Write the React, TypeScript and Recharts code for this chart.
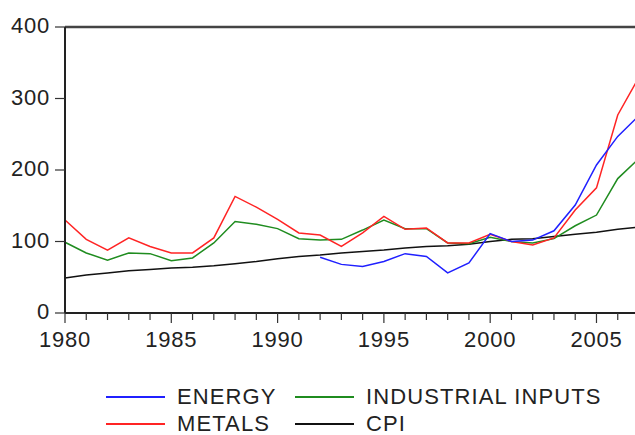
import { LineChart, Line, XAxis, YAxis, ReferenceLine } from 'recharts';

const years = [
  1980, 1981, 1982, 1983, 1984, 1985, 1986, 1987, 1988, 1989, 1990, 1991, 1992, 1993,
  1994, 1995, 1996, 1997, 1998, 1999, 2000, 2001, 2002, 2003, 2004, 2005, 2006, 2007,
];
const energy = [
  null, null, null, null, null, null, null, null, null, null, null, null, 78, 68,
  65, 72, 83, 79, 56, 70, 111, 100, 102, 115, 151, 207, 247, 276,
];
const metals = [
  130, 103, 88, 105, 93, 84, 84, 105, 163, 148, 131, 112, 109, 93,
  112, 135, 117, 119, 98, 98, 110, 100, 95, 105, 144, 175, 277, 330,
];
const industrialInputs = [
  99, 84, 74, 84, 83, 73, 77, 98, 128, 124, 118, 104, 102, 103,
  116, 130, 118, 118, 98, 97, 106, 100, 98, 104, 122, 137, 188, 216,
];
const cpi = [
  49, 53, 56, 59, 61, 63, 64, 66, 69, 72, 76, 79, 81, 84,
  86, 88, 91, 93, 94, 96, 100, 103, 104, 107, 110, 113, 117, 120,
];
const yTicks = [0, 100, 200, 300, 400];

const data = years.map((year, i) => ({
  year,
  energy: energy[i],
  metals: metals[i],
  industrial: industrialInputs[i],
  cpi: cpi[i],
}));

const FONT = '"Liberation Sans", Arial, sans-serif';
const TEXT = '#222';

const series = [
  { key: 'energy', name: 'ENERGY', color: '#2020ff' },
  { key: 'industrial', name: 'INDUSTRIAL INPUTS', color: '#1f8c1f' },
  { key: 'metals', name: 'METALS', color: '#ff2424' },
  { key: 'cpi', name: 'CPI', color: '#111111' },
];

function XTick({ x, y, payload }: any) {
  const major = payload.value % 5 === 0;
  return (
    <g>
      <line x1={x} x2={x} y1={y} y2={y + (major ? 10 : 7)} stroke="#333" strokeWidth={1.2} />
      {major && (
        <text x={x} y={y + 34} textAnchor="middle" fontFamily={FONT} fontSize={22} letterSpacing={0.8} fill={TEXT}>
          {payload.value}
        </text>
      )}
    </g>
  );
}

function YTick({ x, y, payload }: any) {
  return (
    <g>
      <line x1={x - 10} x2={x} y1={y} y2={y} stroke="#333" strokeWidth={1.2} />
      <text x={x - 15} y={y + 6} textAnchor="end" fontFamily={FONT} fontSize={22} letterSpacing={0.8} fill={TEXT}>
        {payload.value}
      </text>
    </g>
  );
}

function LegendBlock() {
  const cols = [106, 295];
  const rows = [397, 424];
  return (
    <svg width={635} height={435} style={{ position: 'absolute', left: 0, top: 0, pointerEvents: 'none' }}>
      {series.map((s, i) => {
        const cx = cols[i % 2];
        const cy = rows[Math.floor(i / 2)];
        return (
          <g key={s.key}>
            <line x1={cx} x2={cx + 59} y1={cy} y2={cy} stroke={s.color} strokeWidth={2} />
            <text x={cx + 71} y={cy + 7} fontFamily={FONT} fontSize={22} letterSpacing={1.1} fill={TEXT}>
              {s.name}
            </text>
          </g>
        );
      })}
    </svg>
  );
}

export default function App() {
  return (
    <div style={{ position: 'absolute', left: 0, top: 0, width: 635, height: 435, overflow: 'hidden', background: '#fff' }}>
      <LineChart width={660} height={435} data={data} margin={{ top: 27, right: 21, left: 0, bottom: 0 }}>
        <XAxis
          dataKey="year"
          type="number"
          domain={[1980, 2007]}
          ticks={years}
          interval={0}
          height={122}
          tickSize={0}
          tickMargin={0}
          axisLine={{ stroke: '#222', strokeWidth: 2 }}
          tickLine={false}
          tick={<XTick />}
        />
        <YAxis
          type="number"
          domain={[0, 400]}
          ticks={yTicks}
          width={65}
          tickSize={0}
          tickMargin={0}
          axisLine={{ stroke: '#222', strokeWidth: 2 }}
          tickLine={false}
          tick={<YTick />}
        />
        <ReferenceLine y={400} stroke="#444" strokeWidth={2.5} />
        <Line dataKey="cpi" stroke="#111111" strokeWidth={1.5} dot={false} isAnimationActive={false} />
        <Line dataKey="industrial" stroke="#1f8c1f" strokeWidth={1.5} dot={false} isAnimationActive={false} />
        <Line dataKey="metals" stroke="#ff2424" strokeWidth={1.5} dot={false} isAnimationActive={false} />
        <Line dataKey="energy" stroke="#2020ff" strokeWidth={1.5} dot={false} isAnimationActive={false} />
      </LineChart>
      <LegendBlock />
    </div>
  );
}
